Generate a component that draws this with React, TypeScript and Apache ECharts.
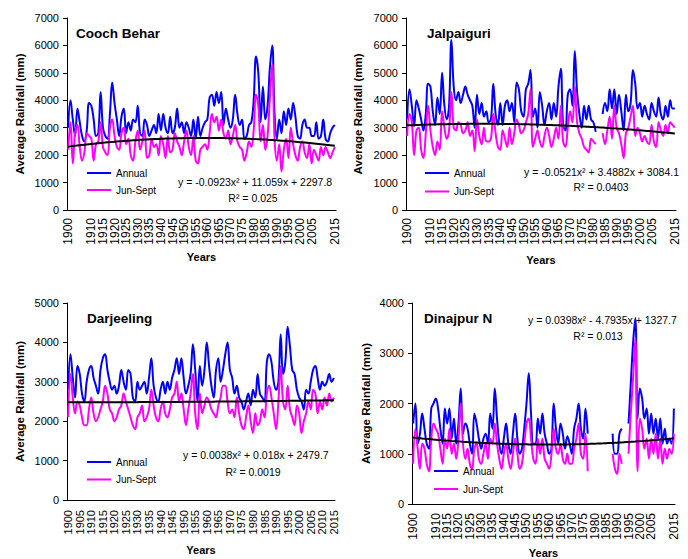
import React, { useEffect, useRef } from "react";
import * as echarts from "echarts";

const years: string[] = [];
for (let y = 1900; y <= 2015; y++) years.push(String(y));

const seriesNames = ["Annual", "Jun-Sept"];
const yTicksMax = [7000, 7000, 5000, 4000];

// Cooch Behar
const coochAnnual = [
  3000, 4000, 3300, 2700, 3700, 3200, 2700, 2500, 2900, 3900,
  3800, 3300, 2700, 2800, 4300, 3000, 2700, 2600, 3500, 4650,
  3900, 3300, 2700, 3400, 3700, 2800, 3200, 2900, 3300, 3200,
  3800, 2800, 2700, 3300, 3100, 2700, 2900, 3100, 2800, 3500,
  2900, 3500, 3000, 2800, 3400, 2800, 3000, 3700, 3000, 3200,
  2800, 3200, 3000, 2700, 3300, 2600, 3400, 2700, 3000, 3200,
  3300, 4100, 4200, 3800, 4300, 3900, 4300, 3100, 3700, 3300,
  3000, 3300, 4200, 3500, 3100, 3300, 2600, 2700, 3100, 3200,
  4000, 5600, 5000, 3200, 4500, 3300, 3800, 5200, 6000, 3500,
  2600, 3300, 2800, 3600, 3100, 3700, 3300, 3900, 3400, 2700,
  2600, 3100, 3300, 3000, 3000, 2700, 2700, 3200, 2600, 2700,
  3300, 2600, 2500, 2800, 3000, 3100,
];
const coochMonsoon = [
  2200, 3200, 1700, 2800, 3100, 2300, 1800, 2100, 2800, 2700,
  2600, 1800, 2400, 2500, 3200, 2300, 2100, 2000, 3000, 3300,
  2700, 2300, 2200, 2800, 3000, 2400, 2600, 2000, 1800, 2500,
  2900, 2200, 2500, 2900, 1900, 2000, 2600, 2300, 2400, 2000,
  2700, 2400, 1900, 2700, 2100, 2200, 2800, 2500, 2300, 2000,
  2500, 2900, 2300, 2000, 2700, 1800, 1700, 2200, 2300, 2400,
  2200, 2800, 3500, 3200, 3400, 2900, 3300, 2800, 2600, 2900,
  2400, 2700, 3100, 2500, 2300, 2200, 1800, 2100, 2500, 2300,
  2900, 4200, 3800, 2500, 3100, 2200, 2700, 4100, 5300, 2600,
  1800, 2400, 1400, 2200, 2600, 1900, 3000, 2400, 2000, 1800,
  2300, 2500, 2100, 1900, 2400, 1700, 2200, 2000, 1800, 2300,
  2000, 2300, 2100, 1900, 2100, 2300,
];
const coochTrendCoef = [-0.0923, 11.059, 2297.8];

// Jalpaiguri
const jalpaiguriAnnual = [
  3300, 4400, 3800, 3050, 4000, 3700, 3300, 2900, 3500, 4600,
  4500, 3600, 3100, 4100, 3500, 5000, 3800, 3300, 3800, 6200,
  4500, 4000, 4300, 3900, 4200, 4500, 4200, 4000, 3800, 3000,
  4200, 3500, 3900, 3400, 3600, 3200, 3300, 4600, 3500, 3100,
  3900, 3100, 3800, 4000, 3600, 3900, 3200, 4650, 4400, 3600,
  3400, 4400, 4600, 5100, 3400, 3700, 3000, 4300, 3800, 3100,
  3600, 3900, 3300, 3900, 3400, 4500, 5150, 3100, 2900, 4200,
  4400, 3800, 5800, 4300, 3500, 3000, 3800, 3300, 3800, 3300,
  3200, 2850, null, null, 3500, 3900, 3600, 4400, 3700, 4400,
  3500, 4200, 3600, 2900, 4200, 3600, 3900, 5100, 4600, 3700,
  3900, 3400, 3800, 3500, 3300, 3900, 3600, 3400, 4100, 3500,
  3300, 3800, 3400, 4000, 3700, 3700,
];
const jalpaiguriMonsoon = [
  2700, 3500, 3200, 2000, 2900, 3000, 2200, 1900, 2800, 3800,
  2900, 2300, 2000, 2500, 2200, 3600, 3000, 2600, 2900, 4300,
  3000, 2900, 3200, 3100, 2800, 2900, 3200, 2700, 2900, 2150,
  3300, 2700, 2400, 3000, 2500, 2500, 2600, 3500, 2800, 2300,
  2200, 2900, 2600, 2300, 3000, 2400, 2800, 3300, 3100, 2800,
  2900, 3200, 3500, 4400, 2300, 2600, 2900, 2500, 2300, 2700,
  3000, 2700, 2300, 2600, 3000, 2600, 3800, 2500, 2300, 3000,
  3600, 3200, 4500, 3200, 2800, 2600, 2300, 2200, 2100, 2600,
  2500, 2400, null, null, 2800, 2400, 2900, 3400, 2600, 3800,
  3000, 2800, 2400, 1900, 2800, 3000, 3400, 3800, 2700, 3000,
  2800, 2500, 2700, 2500, 2400, 3100, 2500, 2300, 3200, 2900,
  2700, 3100, 2800, 3200, 3100, 3000,
];
const jalpaiguriTrendCoef = [-0.0521, 3.4882, 3084.1];

// Darjeeling
const darjeelingAnnual = [
  2800, 3700, 3100, 2600, 3400, 3200, 2700, 2500, 3000, 3300,
  3400, 3100, 2900, 2700, 3300, 3600, 3700, 3300, 3000, 2800,
  2900, 2700, 2900, 3300, 3000, 2800, 3300, 3200, 2600, 2500,
  3000, 2800, 2900, 3000, 2700, 3100, 3600, 2900, 2600, 2500,
  2800, 3000, 2700, 3000, 2800, 3100, 3300, 3600, 3200, 3600,
  3100, 2700, 2900, 3200, 3950, 3300, 2500, 3400, 2900, 3300,
  4000, 3400, 2900, 2600, 3300, 3600, 3000, 3300, 3700, 4000,
  3300, 3100, 2700, 2900, 2600, 2500, 2300, 2500, 2700, 2400,
  2800, 2600, 3200, 2700, 2600, 2500, 3500, 3700, 3500, 3000,
  2800, 3000, 4200, 3200, 3500, 4400, 3900, 3300, 3200, 2800,
  2600, 2500, 2300, 2800, 2700, 3000, 3300, 3400, 3100, 2800,
  3000, 2900, 3000, 3200, 3000, 3100,
];
const darjeelingMonsoon = [
  2100, 3200, 2600, 2200, 2500, 2400, 2100, 1900, 1900, 2300,
  2600, 2200, 2000, 2100, 2300, 2500, 2900, 2700, 2300, 2200,
  2000, 2100, 2300, 2400, 2700, 2500, 2300, 2100, 1900, 1800,
  2100, 2200, 2400, 2000, 2100, 2300, 2800, 2400, 2100, 2000,
  2300, 2500, 2200, 2100, 2300, 2600, 2700, 3000, 2500, 2700,
  2300, 1900, 2300, 2700, 3200, 2200, 1800, 2700, 2200, 2400,
  2600, 2500, 2300, 2200, 2100, 2400, 2600, 2900, 2900, 2500,
  2200, 2300, 2100, 2600, 2200, 1900, 1800, 2100, 2400, 2000,
  1700, 2200, 1900, 2000, 2300, 2100, 2700, 2900, 2600, 2200,
  1800, 2500, 3400, 2500, 2300, 2900, 2300, 2100, 1900, 2400,
  2200, 1700, 2000, 2200, 2500, 2300, 2800, 2700, 2200, 2500,
  2300, 2600, 2400, 2700, 2500, 2600,
];
const darjeelingTrendCoef = [0.0038, 0.018, 2479.7];

// Dinajpur N
const dinajpurAnnual = [
  1600, 2000, 1200, 1400, 1800, 1500, 1200, 1100, 1900, 2000,
  2100, 1900, 1500, 1200, 1900, 1600, 1900, 1300, 1700, 1200,
  1600, 2300, 1400, 1600, 1500, 1200, 1000, 1800, 1600, 1300,
  1100, 1300, 1400, 1200, 1800, 1500, 2300, 1700, 1200, 1000,
  1300, 1600, 1200, 1000, 1400, 1800, 1300, 1000, 1100, 1500,
  2000, 2600, 1800, 1200, 1200, 1700, 1400, 1800, 1400, 1200,
  1000, 1100, 2000, 1500, 1200, 1600, 1400, 1100, 1350, 1200,
  1000, 1500, 1700, 2000, 1500, 1300, 1900, 1400, null, null,
  null, null, null, null, null, null, null, null, 1400, 1000,
  1000, 1400, 1500, null, null, 1600, 2400, 3200, 3700, 1700,
  2300, 2100, 1700, 1900, 1400, 1800, 1400, 1700, 1300, 1700,
  1200, 1500, 1200, 1300, 1200, 1900,
];
const dinajpurMonsoon = [
  800, 1500, 1100, 700, 1200, 1100, 800, 650, 1300, 1600,
  1500, 1400, 1100, 800, 1300, 1100, 1500, 1000, 1200, 900,
  1300, 2000, 1200, 900, 1100, 800, 700, 1100, 1200, 900,
  800, 1000, 1200, 900, 1300, 1200, 1600, 1200, 900, 700,
  1000, 1200, 900, 700, 1000, 1300, 1000, 700, 800, 1200,
  1600, 1700, 1300, 900, 800, 1300, 1000, 1300, 900, 800,
  700, 1000, 1500, 1100, 1000, 1200, 900, 800, 1000, 800,
  800, 1100, 1300, 1600, 1000, 900, 1400, 650, null, null,
  null, null, null, null, null, null, null, null, 1000, 700,
  600, 1000, 800, null, null, 1000, 1800, 2500, 3300, 650,
  1700, 1500, 1100, 1300, 900, 1300, 1000, 1400, 900, 1300,
  800, 1100, 900, 1100, 1000, 1400,
];
const dinajpurTrendCoef = [0.0398, -4.7935, 1327.7];

const titles = ["Cooch Behar", "Jalpaiguri", "Darjeeling", "Dinajpur N"];
const equations = [
  "y = -0.0923x\u00B2 + 11.059x + 2297.8",
  "y = -0.0521x\u00B2 + 3.4882x + 3084.1",
  "y = 0.0038x\u00B2 + 0.018x + 2479.7",
  "y = 0.0398x\u00B2 - 4.7935x + 1327.7",
];
const r2Texts = ["R\u00B2 = 0.025", "R\u00B2 = 0.0403", "R\u00B2 = 0.0019", "R\u00B2 = 0.013"];

const annualData = [coochAnnual, jalpaiguriAnnual, darjeelingAnnual, dinajpurAnnual];
const monsoonData = [coochMonsoon, jalpaiguriMonsoon, darjeelingMonsoon, dinajpurMonsoon];
const trendCoefs = [coochTrendCoef, jalpaiguriTrendCoef, darjeelingTrendCoef, dinajpurTrendCoef];

const FONT = '"Liberation Sans", Arial, Helvetica, sans-serif';

// layout (positions only)
const layouts = [
  { grid: { left: 67, top: 18, width: 269, height: 192 }, title: [76, 26], legend: [87, 166, 3], eq: [178, 181.5], r2: [253, 197.5], yGap: 41, xGap: 41, xLabel: 12, xMargin: 8 },
  { grid: { left: 406, top: 18, width: 270, height: 192 }, title: [427, 26], legend: [425, 166, 4.5], eq: [524, 171.5], r2: [601, 187], yGap: 42, xGap: 44, xLabel: 12, xMargin: 8 },
  { grid: { left: 67, top: 303, width: 268, height: 197 }, title: [87, 311.5], legend: [87, 455, 3.5], eq: [183, 454.5], r2: [253, 471.5], yGap: 41, xGap: 44, xLabel: 11, xMargin: 10 },
  { grid: { left: 412, top: 303, width: 263, height: 201 }, title: [424, 311.5], legend: [434, 464, 4], eq: [528, 319.5], r2: [598, 336], yGap: 40, xGap: 43, xLabel: 12, xMargin: 9 },
];

function buildOption() {
  const series: any[] = [];
  for (let k = 0; k < 4; k++) {
    const [a, b, c] = trendCoefs[k];
    const trend = years.map((_, i) => {
      const x = i + 1;
      return Math.round((a * x * x + b * x + c) * 10) / 10;
    });
    series.push({
      name: seriesNames[0], type: "line", xAxisIndex: k, yAxisIndex: k,
      data: annualData[k], symbol: "none", smooth: 0.4, connectNulls: false,
      lineStyle: { color: "#0000FF", width: 2 }, itemStyle: { color: "#0000FF" }, z: 2,
    });
    series.push({
      name: seriesNames[1], type: "line", xAxisIndex: k, yAxisIndex: k,
      data: monsoonData[k], symbol: "none", smooth: 0.4, connectNulls: false,
      lineStyle: { color: "#FF00FF", width: 2 }, itemStyle: { color: "#FF00FF" }, z: 3,
    });
    series.push({
      name: "Poly. trend", type: "line", xAxisIndex: k, yAxisIndex: k,
      data: trend, symbol: "none", smooth: false,
      lineStyle: { color: "#000000", width: 2 }, itemStyle: { color: "#000000" }, z: 4,
    });
  }

  const graphic: any[] = [];
  for (let k = 0; k < 4; k++) {
    const l = layouts[k];
    graphic.push({
      type: "text", x: l.eq[0], y: l.eq[1],
      style: { text: equations[k], font: `10.5px ${FONT}`, fill: "#000", align: "left", verticalAlign: "middle" },
    });
    graphic.push({
      type: "text", x: l.r2[0], y: l.r2[1],
      style: { text: r2Texts[k], font: `10.5px ${FONT}`, fill: "#000", align: "center", verticalAlign: "middle" },
    });
  }

  return {
    animation: false,
    backgroundColor: "#ffffff",
    textStyle: { fontFamily: FONT },
    title: layouts.map((l, k) => ({
      text: titles[k], left: l.title[0], top: l.title[1], padding: 0,
      textStyle: { fontSize: 13.5, fontWeight: "bold", fontFamily: FONT, color: "#000" },
    })),
    legend: layouts.map((l) => ({
      data: seriesNames, orient: "vertical", left: l.legend[0], top: l.legend[1], itemGap: l.legend[2],
      itemWidth: 24, itemHeight: 2, icon: "rect", padding: 0, selectedMode: false,
      textStyle: { fontSize: 10, fontFamily: FONT, color: "#000", lineHeight: 14 },
    })),
    grid: layouts.map((l) => ({ ...l.grid, containLabel: false })),
    xAxis: layouts.map((l, k) => ({
      type: "category", gridIndex: k, data: years, boundaryGap: true,
      axisLine: { lineStyle: { color: "#000", width: 1 } },
      axisTick: { inside: true, length: 4, interval: 4, lineStyle: { color: "#000" } },
      axisLabel: {
        interval: 4, rotate: 90, fontSize: l.xLabel, fontFamily: FONT, color: "#000", margin: l.xMargin,
        showMinLabel: true, showMaxLabel: true, hideOverlap: false,
      },
      name: "Years", nameLocation: "middle", nameGap: l.xGap,
      nameTextStyle: { fontSize: 11, fontWeight: "bold", fontFamily: FONT, color: "#000" },
      splitLine: { show: false },
    })),
    yAxis: layouts.map((l, k) => ({
      type: "value", gridIndex: k, min: 0, max: yTicksMax[k], interval: 1000,
      axisLine: { show: true, lineStyle: { color: "#000", width: 1 } },
      axisTick: { show: true, length: 4, lineStyle: { color: "#000" } },
      splitLine: { show: false },
      axisLabel: { fontSize: 11, fontFamily: FONT, color: "#000", margin: 8, formatter: (v: number) => String(v) },
      name: "Average Rainfall (mm)", nameLocation: "middle", nameGap: l.yGap,
      nameTextStyle: { fontSize: 11.5, fontWeight: "bold", fontFamily: FONT, color: "#000" },
    })),
    series,
    graphic,
  };
}

export default function App() {
  const ref = useRef<HTMLDivElement>(null);
  useEffect(() => {
    document.body.style.margin = "0";
    const chart = echarts.init(ref.current as HTMLDivElement, null, { renderer: "svg" });
    chart.setOption(buildOption() as any);
    return () => chart.dispose();
  }, []);
  return <div ref={ref} style={{ width: 688, height: 559 }} />;
}
